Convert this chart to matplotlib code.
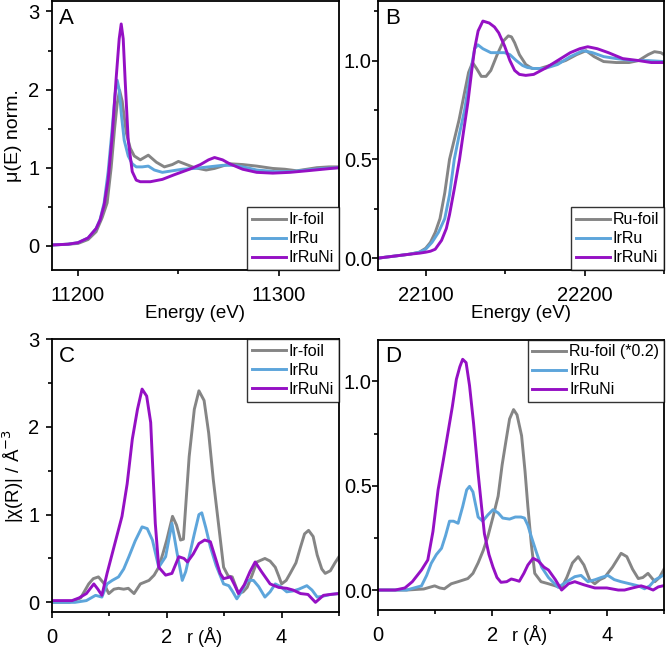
import numpy as np
import matplotlib
matplotlib.use("Agg")
import matplotlib.pyplot as plt
from matplotlib.ticker import MultipleLocator, FormatStrFormatter

plt.rcParams['font.family'] = ['Liberation Sans', 'DejaVu Sans']

gray = '#858585'
blue = '#5DA5DB'
purple = '#9510C4'

# ---- panel A: Ir L3 XANES ----
eA_foil = [11187, 11195, 11200, 11205, 11209, 11212, 11214.5, 11216.5, 11218.2, 11219.5, 11220.7, 11222, 11224,
           11226, 11228, 11231, 11235, 11239, 11243, 11247, 11250, 11254, 11258, 11263.8, 11268, 11275.5, 11282,
           11289, 11297, 11303, 11309, 11314, 11319, 11325, 11330]
muA_foil = [0.01, 0.02, 0.03, 0.08, 0.18, 0.36, 0.55, 1.0, 1.5, 1.82, 1.99, 1.85, 1.45, 1.25, 1.15, 1.10, 1.16,
            1.07, 1.01, 1.04, 1.08, 1.04, 1.00, 0.97, 0.99, 1.05, 1.04, 1.02, 0.99, 0.98, 0.96, 0.98, 1.00, 1.01, 1.01]
eA_irru = [11187, 11195, 11200, 11205, 11209, 11211, 11213, 11215, 11217, 11218.5, 11219.5, 11220.5, 11221.5,
           11223, 11225, 11227, 11229, 11232, 11235, 11238, 11242, 11247, 11252, 11258, 11265, 11272, 11278,
           11284, 11289, 11298, 11306, 11314, 11322, 11330]
muA_irru = [0.01, 0.02, 0.04, 0.10, 0.22, 0.34, 0.55, 0.95, 1.50, 1.95, 2.12, 2.0, 1.7, 1.35, 1.15, 1.05, 1.01,
            1.01, 1.02, 0.97, 0.94, 0.96, 0.98, 0.99, 1.01, 1.03, 1.03, 1.0, 0.97, 0.95, 0.95, 0.97, 0.99, 1.00]
eA_irruni = [11187, 11195, 11200, 11205, 11209, 11211, 11213, 11215, 11217, 11219, 11220.5, 11221.5, 11222.5,
             11223.5, 11225, 11227, 11229, 11231, 11236, 11242, 11248, 11255.5, 11261, 11265, 11268, 11272,
             11275.5, 11282, 11289, 11297, 11305.5, 11314, 11322, 11330]
muA_irruni = [0.01, 0.02, 0.04, 0.10, 0.22, 0.33, 0.52, 0.85, 1.40, 2.15, 2.65, 2.84, 2.65, 2.1, 1.35, 0.95, 0.84,
              0.82, 0.82, 0.85, 0.91, 0.98, 1.04, 1.10, 1.13, 1.10, 1.05, 0.98, 0.94, 0.93, 0.94, 0.96, 0.98, 1.00]

# ---- panel B: Ru K XANES ----
eB_foil = [22070, 22080, 22090, 22096, 22100, 22103, 22106, 22109, 22112, 22115, 22118, 22121, 22124, 22127,
           22129.5, 22132, 22135, 22138, 22141, 22145, 22149, 22152, 22154, 22156, 22159, 22163, 22167, 22172,
           22180, 22188, 22195, 22201, 22206, 22212, 22220, 22228, 22234, 22240, 22244, 22248, 22250]
muB_foil = [0.0, 0.01, 0.02, 0.03, 0.05, 0.08, 0.13, 0.2, 0.33, 0.5, 0.6, 0.7, 0.82, 0.94, 0.99, 0.96, 0.92,
            0.92, 0.95, 1.03, 1.10, 1.125, 1.12, 1.09, 1.03, 0.98, 0.96, 0.96, 0.98, 1.0, 1.03, 1.05, 1.02,
            0.995, 0.99, 0.99, 1.0, 1.03, 1.045, 1.04, 1.03]
eB_irru = [22070, 22080, 22090, 22096, 22100, 22104, 22108, 22112, 22115, 22118, 22121, 22124.5, 22128,
           22130.8, 22132.8, 22136, 22141, 22145, 22149.6, 22153, 22157, 22161, 22164, 22168, 22175, 22183,
           22191, 22199, 22205, 22212, 22220, 22230, 22240, 22250]
muB_irru = [0.0, 0.01, 0.02, 0.03, 0.045, 0.08, 0.13, 0.2, 0.32, 0.5, 0.62, 0.75, 0.93, 1.06, 1.08, 1.06, 1.04,
            1.04, 1.04, 1.03, 1.0, 0.975, 0.965, 0.96, 0.96, 0.98, 1.02, 1.05, 1.04, 1.02, 1.01, 1.0, 1.0, 0.995]
eB_irruni = [22070, 22080, 22090, 22096, 22100, 22103, 22106, 22110, 22113, 22115, 22118, 22121.3, 22124,
             22126.6, 22129, 22130.8, 22133, 22136, 22140, 22143.3, 22146, 22149.6, 22153, 22156, 22159, 22163,
             22168, 22175, 22183, 22191, 22197, 22202, 22208, 22215, 22224, 22234, 22242, 22250]
muB_irruni = [0.0, 0.01, 0.02, 0.025, 0.03, 0.035, 0.045, 0.09, 0.15, 0.22, 0.35, 0.5, 0.65, 0.79, 0.95, 1.06,
              1.15, 1.2, 1.19, 1.17, 1.14, 1.075, 1.0, 0.95, 0.93, 0.925, 0.93, 0.96, 1.0, 1.04, 1.06, 1.07,
              1.06, 1.04, 1.01, 1.0, 0.99, 0.99]

# ---- panel C: Ir FT-EXAFS ----
rC_foil = [0, 0.3, 0.5, 0.64, 0.72, 0.81, 0.9, 0.99, 1.08, 1.16, 1.25, 1.33, 1.43, 1.54, 1.69, 1.78, 1.86, 1.93,
           2.0, 2.1, 2.17, 2.24, 2.29, 2.39, 2.48, 2.56, 2.65, 2.73, 2.81, 2.9, 2.99, 3.07, 3.14, 3.25, 3.33, 3.4,
           3.48, 3.57, 3.71, 3.8, 3.89, 3.95, 4.0, 4.08, 4.15, 4.25, 4.33, 4.4, 4.47, 4.55, 4.62, 4.7, 4.76, 4.85,
           4.93, 5.0]
chiC_foil = [0.0, 0.0, 0.05, 0.21, 0.27, 0.29, 0.22, 0.1, 0.15, 0.16, 0.15, 0.16, 0.10, 0.21, 0.25, 0.31, 0.4,
             0.55, 0.71, 0.98, 0.88, 0.71, 0.72, 1.66, 2.2, 2.41, 2.3, 1.93, 1.4, 0.9, 0.40, 0.3, 0.29, 0.1, 0.12,
             0.17, 0.3, 0.46, 0.5, 0.47, 0.40, 0.3, 0.21, 0.25, 0.33, 0.45, 0.63, 0.78, 0.82, 0.75, 0.54, 0.38,
             0.33, 0.36, 0.45, 0.52]
rC_irru = [0, 0.4, 0.6, 0.76, 0.87, 0.96, 1.05, 1.16, 1.25, 1.34, 1.45, 1.57, 1.66, 1.75, 1.86, 1.98, 2.09, 2.18,
           2.27, 2.33, 2.39, 2.48, 2.56, 2.61, 2.68, 2.76, 2.86, 2.99, 3.08, 3.15, 3.22, 3.3, 3.4, 3.51, 3.6, 3.71,
           3.8, 3.89, 3.98, 4.09, 4.2, 4.3, 4.44, 4.53, 4.62, 4.72, 4.85, 5.0]
chiC_irru = [0.0, 0.0, 0.02, 0.08, 0.06, 0.21, 0.25, 0.29, 0.38, 0.52, 0.7, 0.86, 0.84, 0.71, 0.4, 0.52, 0.9,
             0.56, 0.25, 0.35, 0.52, 0.78, 1.0, 1.02, 0.85, 0.63, 0.42, 0.21, 0.19, 0.12, 0.04, 0.12, 0.25, 0.25,
             0.18, 0.06, 0.12, 0.21, 0.18, 0.12, 0.13, 0.15, 0.19, 0.14, 0.06, 0.07, 0.09, 0.1]
rC_irruni = [0, 0.35, 0.47, 0.6, 0.73, 0.8, 0.87, 0.96, 1.08, 1.22, 1.31, 1.4, 1.49, 1.57, 1.65, 1.72, 1.8,
             1.86, 1.98, 2.09, 2.21, 2.3, 2.36, 2.46, 2.56, 2.66, 2.76, 2.85, 2.93, 2.99, 3.11, 3.18, 3.25, 3.35,
             3.45, 3.54, 3.65, 3.8, 3.95, 4.09, 4.2, 4.33, 4.46, 4.59, 4.73, 4.85, 4.99]
chiC_irruni = [0.02, 0.02, 0.05, 0.1, 0.21, 0.15, 0.08, 0.33, 0.63, 0.98, 1.35, 1.86, 2.2, 2.43, 2.35, 2.05, 0.9,
               0.40, 0.31, 0.33, 0.52, 0.5, 0.46, 0.55, 0.67, 0.71, 0.69, 0.5, 0.33, 0.27, 0.29, 0.2, 0.1, 0.2,
               0.35, 0.46, 0.35, 0.21, 0.17, 0.16, 0.14, 0.1, 0.09, 0.0, 0.08, 0.09, 0.10]

# ---- panel D: Ru FT-EXAFS ----
rD_foil = [0, 0.5, 0.8, 0.99, 1.08, 1.16, 1.28, 1.4, 1.57, 1.66, 1.75, 1.84, 1.92, 2.01, 2.1, 2.17, 2.24, 2.3,
           2.37, 2.43, 2.51, 2.57, 2.62, 2.68, 2.74, 2.85, 2.98, 3.1, 3.21, 3.3, 3.4, 3.5, 3.6, 3.7, 3.79, 3.88,
           3.96, 4.1, 4.25, 4.35, 4.45, 4.55, 4.63, 4.72, 4.84, 4.92, 5.0]
chiD_foil = [0.0, 0.0, 0.005, 0.02, 0.01, 0.006, 0.03, 0.04, 0.055, 0.08, 0.13, 0.19, 0.256, 0.35, 0.45, 0.6,
             0.72, 0.82, 0.865, 0.84, 0.74, 0.57, 0.40, 0.22, 0.08, 0.04, 0.03, 0.02, 0.01, 0.06, 0.13, 0.16, 0.12,
             0.05, 0.03, 0.05, 0.06, 0.11, 0.176, 0.16, 0.1, 0.055, 0.06, 0.08, 0.04, 0.06, 0.1]
rD_irru = [0, 0.5, 0.76, 0.85, 0.93, 1.02, 1.11, 1.18, 1.25, 1.32, 1.4, 1.48, 1.55, 1.6, 1.66, 1.75, 1.83, 1.92,
           2.01, 2.1, 2.18, 2.3, 2.4, 2.5, 2.56, 2.62, 2.68, 2.77, 2.86, 2.98, 3.15, 3.3, 3.44, 3.55, 3.67, 3.8,
           3.9, 4.02, 4.13, 4.25, 4.4, 4.55, 4.66, 4.75, 4.84, 4.98]
chiD_irru = [0.0, 0.0, 0.02, 0.07, 0.128, 0.17, 0.2, 0.26, 0.33, 0.33, 0.32, 0.40, 0.48, 0.497, 0.47, 0.35, 0.33,
             0.36, 0.385, 0.37, 0.345, 0.34, 0.35, 0.35, 0.345, 0.31, 0.256, 0.18, 0.11, 0.06, 0.013, 0.04, 0.064,
             0.07, 0.04, 0.05, 0.06, 0.07, 0.05, 0.04, 0.03, 0.02, 0.006, 0.02, 0.048, 0.07]
rD_irruni = [0, 0.3, 0.47, 0.6, 0.76, 0.87, 0.96, 1.05, 1.14, 1.22, 1.3, 1.37, 1.43, 1.48, 1.54, 1.6, 1.67, 1.75,
             1.81, 1.86, 1.94, 2.01, 2.08, 2.15, 2.25, 2.33, 2.4, 2.47, 2.55, 2.62, 2.71, 2.8, 2.9, 2.98, 3.1,
             3.21, 3.33, 3.44, 3.6, 3.79, 4.0, 4.2, 4.31, 4.45, 4.6, 4.72, 4.81, 4.9, 4.98]
chiD_irruni = [0.0, 0.0, 0.01, 0.04, 0.096, 0.144, 0.28, 0.48, 0.62, 0.75, 0.88, 1.01, 1.07, 1.106, 1.09, 0.98,
               0.8, 0.56, 0.4, 0.27, 0.17, 0.11, 0.06, 0.037, 0.04, 0.053, 0.048, 0.042, 0.08, 0.12, 0.152, 0.14,
               0.11, 0.096, 0.05, 0.0, 0.03, 0.04, 0.025, 0.01, 0.01, 0.0, 0.0, 0.01, 0.02, 0.01, 0.0, 0.015, 0.02]

labels_A = ['Ir-foil', 'IrRu', 'IrRuNi']
labels_B = ['Ru-foil', 'IrRu', 'IrRuNi']
labels_C = ['Ir-foil', 'IrRu', 'IrRuNi']
labels_D = ['Ru-foil (*0.2)', 'IrRu', 'IrRuNi']

fig = plt.figure(figsize=(6.66, 6.49), dpi=100)
axA = fig.add_axes([0.078, 0.584, 0.431, 0.414])
axB = fig.add_axes([0.5676, 0.584, 0.4294, 0.414])
axC = fig.add_axes([0.078, 0.057, 0.431, 0.4206])
axD = fig.add_axes([0.5676, 0.060, 0.4294, 0.4166])

panels = [
    (axA, [(eA_foil, muA_foil), (eA_irru, muA_irru), (eA_irruni, muA_irruni)], labels_A, 'A', 'lower right', 5),
    (axB, [(eB_foil, muB_foil), (eB_irru, muB_irru), (eB_irruni, muB_irruni)], labels_B, 'B', 'lower right', 0.5),
    (axC, [(rC_foil, chiC_foil), (rC_irru, chiC_irru), (rC_irruni, chiC_irruni)], labels_C, 'C', 'upper right', 5),
    (axD, [(rD_foil, chiD_foil), (rD_irru, chiD_irru), (rD_irruni, chiD_irruni)], labels_D, 'D', 'upper right', 0.5),
]

for ax, series, labels, letter, loc, ypad in panels:
    for (x, y), lab, col in zip(series, labels, [gray, blue, purple]):
        ax.plot(x, y, color=col, lw=2.1, label=lab)
    leg = ax.legend(loc=loc, fontsize=11.5, frameon=True, fancybox=False, borderaxespad=0,
                    handlelength=2.1, handletextpad=0.2, labelspacing=0.25, borderpad=0.3)
    leg.get_frame().set_edgecolor('black')
    leg.get_frame().set_linewidth(1.0)
    ax.text(0.025, 0.975, letter, transform=ax.transAxes, ha='left', va='top', fontsize=16)
    for s in ax.spines.values():
        s.set_linewidth(1.3)
    ax.tick_params(which='both', direction='out', top=False, right=False, labelsize=14.5, width=1.2)
    ax.tick_params(which='major', length=4)
    ax.tick_params(which='minor', length=3)
    ax.tick_params(axis='x', which='major', pad=7.5)
    ax.tick_params(axis='y', which='major', pad=ypad)

# panel A axes
axA.set_xlim(11187, 11330)
axA.set_ylim(-0.31, 3.13)
axA.xaxis.set_major_locator(MultipleLocator(100))
axA.xaxis.set_minor_locator(MultipleLocator(50))
axA.yaxis.set_major_locator(MultipleLocator(1))
axA.yaxis.set_minor_locator(MultipleLocator(0.5))
axA.set_xlabel('Energy (eV)', fontsize=13.5, labelpad=0)
axA.set_ylabel('μ(E) norm.', fontsize=14)
axA.yaxis.set_label_coords(-0.105, 0.5)

# panel B axes
axB.set_xlim(22070, 22250)
axB.set_ylim(-0.06, 1.3)
axB.xaxis.set_major_locator(MultipleLocator(100))
axB.xaxis.set_minor_locator(MultipleLocator(50))
axB.yaxis.set_major_locator(MultipleLocator(0.5))
axB.yaxis.set_minor_locator(MultipleLocator(0.25))
axB.yaxis.set_major_formatter(FormatStrFormatter('%.1f'))
axB.set_xlabel('Energy (eV)', fontsize=13.5, labelpad=0)

# panel C axes
axC.set_xlim(0, 5)
axC.set_ylim(-0.11, 3.0)
axC.xaxis.set_major_locator(MultipleLocator(2))
axC.xaxis.set_minor_locator(MultipleLocator(1))
axC.yaxis.set_major_locator(MultipleLocator(1))
axC.yaxis.set_minor_locator(MultipleLocator(0.5))
axC.set_xlabel('r (Å)', fontsize=13)
axC.xaxis.set_label_coords(0.53, -0.055)
axC.xaxis.label.set_va('top')
axC.set_ylabel('|χ(R)| / Å$^{-3}$', fontsize=13.5)
axC.yaxis.set_label_coords(-0.09, 0.5)

# panel D axes
axD.set_xlim(0, 5)
axD.set_ylim(-0.096, 1.2)
axD.xaxis.set_major_locator(MultipleLocator(2))
axD.xaxis.set_minor_locator(MultipleLocator(1))
axD.yaxis.set_major_locator(MultipleLocator(0.5))
axD.yaxis.set_minor_locator(MultipleLocator(0.25))
axD.yaxis.set_major_formatter(FormatStrFormatter('%.1f'))
axD.set_xlabel('r (Å)', fontsize=13)
axD.xaxis.set_label_coords(0.53, -0.055)
axD.xaxis.label.set_va('top')

fig.savefig('out.png', dpi=100)
